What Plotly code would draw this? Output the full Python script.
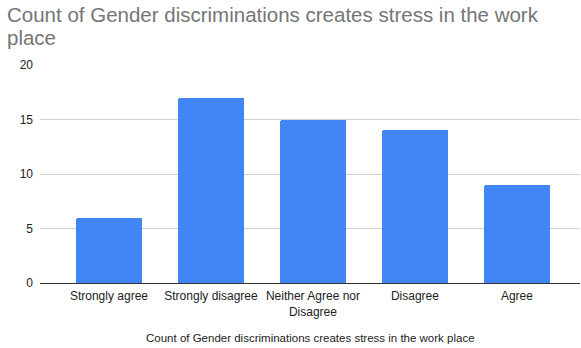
import plotly.graph_objects as go

categories = ["Strongly agree", "Strongly disagree", "Neither Agree nor<br>Disagree", "Disagree", "Agree"]
counts = [6, 17, 15, 14, 9]
y_ticks = [0, 5, 10, 15, 20]

title_lines = ["Count of Gender discriminations creates stress in the work", "place"]
x_title = "Count of Gender discriminations creates stress in the work place"

PLOT_W = 540
PLOT_H = 218

fig = go.Figure(
    go.Bar(
        x=list(range(len(categories))),
        y=counts,
        width=0.65,
        marker=dict(color="#4285F4", cornerradius=2, line=dict(width=0)),
        hoverinfo="skip",
    )
)

fig.update_layout(
    width=581,
    height=348,
    margin=dict(l=40, r=1, t=65, b=65, autoexpand=False),
    paper_bgcolor="white",
    plot_bgcolor="white",
    font=dict(family="Liberation Sans, Arial, sans-serif", size=12, color="#222222"),
    showlegend=False,
    bargap=0,
)

# Chart title: two left-aligned lines in the top margin
for i, line in enumerate(title_lines):
    fig.add_annotation(
        text=line,
        xref="paper",
        yref="paper",
        x=-35 / PLOT_W,
        y=1 + (65 - 1 - 23 * i) / PLOT_H,
        xanchor="left",
        yanchor="top",
        align="left",
        showarrow=False,
        font=dict(size=20.5, color="#757575"),
    )

# Horizontal axis title below the category labels
fig.add_annotation(
    text=x_title,
    xref="paper",
    yref="paper",
    x=0.5,
    y=-55 / PLOT_H,
    xanchor="center",
    yanchor="middle",
    showarrow=False,
    font=dict(size=11.5, color="#222222"),
)

fig.update_xaxes(
    tickmode="array",
    tickvals=list(range(len(categories))),
    ticktext=categories,
    range=[-0.676, 4.618],
    showgrid=False,
    showline=True,
    linecolor="#333333",
    linewidth=1,
    ticks="",
    ticklabelstandoff=2,
    tickfont=dict(size=12, color="#222222"),
    automargin=False,
    zeroline=False,
)

fig.update_yaxes(
    range=[0, 20],
    tickmode="array",
    tickvals=y_ticks,
    showgrid=True,
    gridcolor="#d0d0d0",
    gridwidth=1,
    zeroline=False,
    ticks="",
    ticklabelstandoff=6,
    tickfont=dict(size=12, color="#222222"),
    automargin=False,
)

fig.write_html("out.html")
